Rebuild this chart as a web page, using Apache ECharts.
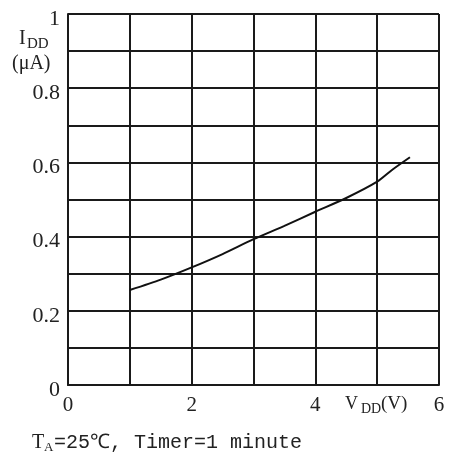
<!DOCTYPE html>
<html>
<head>
<meta charset="utf-8">
<script src="https://cdn.jsdelivr.net/npm/echarts@6/dist/echarts.min.js"></script>
<style>
html,body{margin:0;padding:0;background:#fff;}
#chart{width:456px;height:461px;}
</style>
</head>
<body>
<div id="chart"></div>
<script>
// Data
var vdd = [1.0, 1.5, 2.0, 2.5, 3.0, 3.5, 4.0, 4.5, 5.0, 5.25, 5.53];
var idd = [0.256, 0.284, 0.317, 0.353, 0.393, 0.429, 0.467, 0.504, 0.548, 0.581, 0.614];
var xTickLabels = ['0', '', '2', '', '4', '', '6'];
var yTickLabels = ['0', '', '0.2', '', '0.4', '', '0.6', '', '0.8', '', '1'];
var yLabelText = 'I';
var yLabelSub = 'DD';
var yLabelUnit = '(\u03bcA)';
var xLabelText = 'V';
var xLabelSub = 'DD';
var xLabelUnit = '(V)';
var captionMain = 'T';
var captionSub = 'A';
var captionRest = '=25\u2103, Timer=1 minute';

var points = vdd.map(function (v, i) { return [v, idd[i]]; });
var lineCol = '#1a1a1a';
var serif = '"Liberation Serif", "DejaVu Serif", serif';

var chart = echarts.init(document.getElementById('chart'), null, {renderer: 'canvas'});
chart.setOption({
  animation: false,
  backgroundColor: '#ffffff',
  grid: {left: 68, right: 17, top: 14, bottom: 76, containLabel: false},
  xAxis: {
    type: 'value', min: 0, max: 6, interval: 1,
    axisLine: {show: true, onZero: false, lineStyle: {color: lineCol, width: 2}},
    axisTick: {show: false},
    splitLine: {show: true, lineStyle: {color: lineCol, width: 2}},
    axisLabel: {
      margin: 10, color: '#222', fontFamily: serif, fontSize: 21,
      formatter: function (v) { return xTickLabels[Math.round(v)] || ''; }
    }
  },
  yAxis: {
    type: 'value', min: 0, max: 1, interval: 0.1,
    axisLine: {show: true, onZero: false, lineStyle: {color: lineCol, width: 2}},
    axisTick: {show: false},
    splitLine: {show: true, lineStyle: {color: lineCol, width: 2}},
    axisLabel: {
      margin: 8, color: '#222', fontFamily: serif, fontSize: 22,
      formatter: function (v) {
        var t = yTickLabels[Math.round(v * 10)] || '';
        return t ? '{s|' + t + '}' : '';
      },
      rich: {
        s: {fontFamily: serif, fontSize: 22, color: '#222', padding: [10, 0, 0, 0]}
      }
    }
  },
  series: [{
    type: 'line', data: points, smooth: 0.25, showSymbol: false,
    lineStyle: {color: '#111', width: 2}
  }],
  graphic: [
    {type: 'text', left: 19, top: 29, style: {text: yLabelText, font: '20px ' + serif, fill: '#222'}},
    {type: 'text', left: 27, top: 37, style: {text: yLabelSub, font: '15px ' + serif, fill: '#222'}},
    {type: 'text', left: 12, top: 54, style: {text: yLabelUnit, font: '20px ' + serif, fill: '#222'}},
    {type: 'text', left: 345, top: 395, style: {text: xLabelText, font: '18px ' + serif, fill: '#222'}},
    {type: 'text', left: 361, top: 402, style: {text: xLabelSub, font: '14px ' + serif, fill: '#222'}},
    {type: 'text', left: 381, top: 395, style: {text: xLabelUnit, font: '19px ' + serif, fill: '#222'}},
    {type: 'text', left: 32, top: 433, style: {text: captionMain, font: '20px ' + serif, fill: '#222'}},
    {type: 'text', left: 44, top: 441, style: {text: captionSub, font: '13px ' + serif, fill: '#222'}},
    {type: 'text', left: 54, top: 433, style: {text: captionRest, font: '20px "Liberation Mono", monospace', fill: '#222'}}
  ]
});
</script>
</body>
</html>
